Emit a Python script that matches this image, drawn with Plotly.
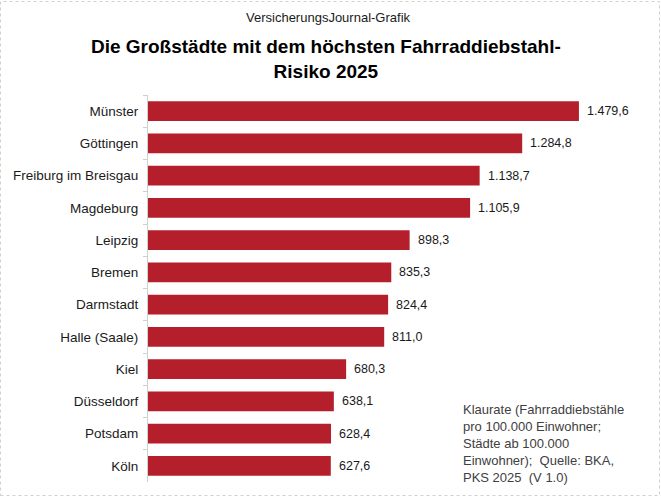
import plotly.graph_objects as go

cities = ["Münster", "Göttingen", "Freiburg im Breisgau", "Magdeburg", "Leipzig", "Bremen",
          "Darmstadt", "Halle (Saale)", "Kiel", "Düsseldorf", "Potsdam", "Köln"]
values = [1479.6, 1284.8, 1138.7, 1105.9, 898.3, 835.3, 824.4, 811.0, 680.3, 638.1, 628.4, 627.6]

subtitle = "VersicherungsJournal-Grafik"
title = "Die Großstädte mit dem höchsten Fahrraddiebstahl-<br>Risiko 2025"
note = ("Klaurate (Fahrraddiebstähle<br>pro 100.000 Einwohner;<br>Städte ab 100.000<br>"
        "Einwohner);  Quelle: BKA,<br>PKS 2025  (V 1.0)")

W, H = 661, 496
L, R, T, B = 148, 47, 95, 14
FONT = "Liberation Sans, Arial, sans-serif"


def de_fmt(v):
    return f"{v:,.1f}".replace(",", "X").replace(".", ",").replace("X", ".")


fig = go.Figure(go.Bar(
    x=values, y=cities, orientation="h",
    marker=dict(color="#b51f2b", line=dict(width=0)),
    width=0.62, hoverinfo="skip",
))

for c, v in zip(cities, values):
    fig.add_annotation(x=v, y=c, xref="x", yref="y", text=de_fmt(v),
                       showarrow=False, xanchor="left", xshift=6,
                       font=dict(family=FONT, size=12.5, color="#1a1a1a"))

pw = W - L - R
ph = H - T - B

fig.add_annotation(xref="paper", yref="paper", x=(328 - L) / pw, y=1 + (T - 18) / ph,
                   text=subtitle, showarrow=False, xanchor="center", yanchor="middle",
                   font=dict(family=FONT, size=13, color="#1a1a1a"))
fig.add_annotation(xref="paper", yref="paper", x=(326 - L) / pw, y=1 + (T - 59) / ph,
                   text="<b>" + title + "</b>", showarrow=False, xanchor="center", yanchor="middle",
                   font=dict(family=FONT, size=19, color="#000000"))
fig.add_annotation(xref="paper", yref="paper", x=(461 - L) / pw, y=1 - (443 - T) / ph,
                   text=note, showarrow=False, xanchor="left", yanchor="middle", align="left",
                   font=dict(family=FONT, size=13, color="#404040"))

fig.add_shape(type="rect", xref="paper", yref="paper",
              x0=-L / pw + 0.5 / pw, x1=1 + (R - 1.5) / pw,
              y0=-B / ph + 0.5 / ph, y1=1 + (T - 1.5) / ph,
              line=dict(color="#d0d0d0", width=1, dash="dot"), layer="below")

fig.update_layout(
    width=W, height=H,
    margin=dict(l=L, r=R, t=T, b=B),
    paper_bgcolor="white", plot_bgcolor="white",
    showlegend=False,
    font=dict(family=FONT, size=12, color="#1a1a1a"),
    separators=",.",
    xaxis=dict(range=[0, 1600], visible=False, fixedrange=True),
    yaxis=dict(autorange="reversed", type="category", showline=True, linecolor="#d0d0d0", linewidth=1,
               ticks="outside", tickson="boundaries", ticklen=4, tickcolor="#d0d0d0",
               showgrid=False, zeroline=False, ticklabelstandoff=6,
               tickfont=dict(family=FONT, size=13.5, color="#1a1a1a")),
)

fig.write_html("out.html")
